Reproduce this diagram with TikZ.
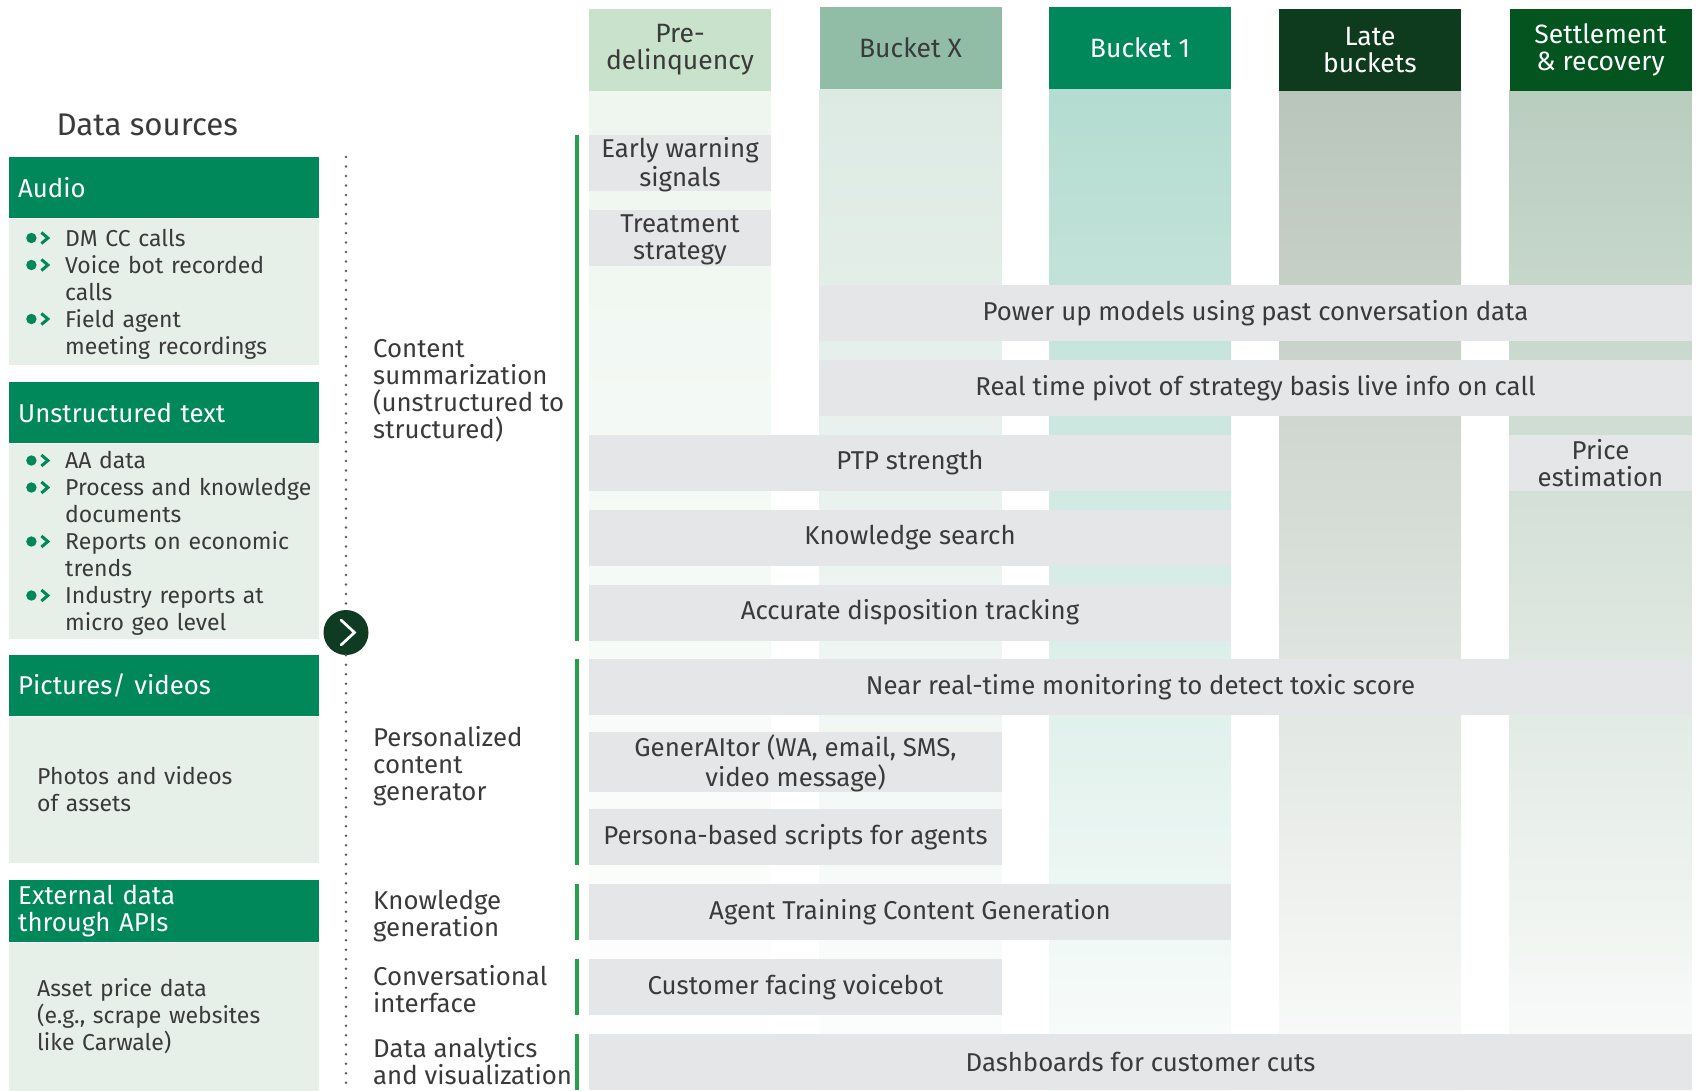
\documentclass[tikz,border=0pt]{standalone}
\usepackage{fontspec}
\setmainfont{Fira Sans}
\usepackage{xcolor}
\usepackage{tikz}
\usetikzlibrary{positioning,calc}
\definecolor{ink}{HTML}{3A3A3A}
\definecolor{bcggreen}{HTML}{00875A}
\definecolor{srcbg}{HTML}{E6F0E8}
\definecolor{cellgray}{HTML}{E5E6E8}
\definecolor{bargreen}{HTML}{27A04E}
\definecolor{circgreen}{HTML}{0F3B22}
\definecolor{dotgray}{HTML}{5A5A5A}
\definecolor{hpre}{HTML}{C8E2CC}
\definecolor{hbx}{HTML}{91BDA7}
\definecolor{hbone}{HTML}{00875A}
\definecolor{hlate}{HTML}{0E3A1E}
\definecolor{hset}{HTML}{03541F}
\definecolor{bpre}{HTML}{EEF6EF}
\definecolor{bbx}{HTML}{DDEAE4}
\definecolor{bbone}{HTML}{B4DCD0}
\definecolor{blate}{HTML}{B9C5BA}
\definecolor{bset}{HTML}{B9CDBF}

\newcommand{\srcbullet}{\tikz[baseline=-8pt, x=1pt, y=1pt]{\fill[bcggreen] (0,0) circle (5.2pt); \draw[bcggreen, line width=3pt] (10,5.5) -- (16.5,0) -- (10,-5.5);}}
\newcommand{\srcitem}{\makebox[39pt][l]{\srcbullet}}
\newcommand{\lowered}[1]{\raisebox{-3pt}[\height][\depth]{#1}}

\begin{document}
\begin{tikzpicture}[
  x=1pt, y=-1pt,
  font=\fontsize{25.8}{27}\selectfont, text=ink,
  colhead/.style={minimum width=182pt, minimum height=82pt, inner sep=0pt, align=center, font=\fontsize{26.5}{27}\selectfont},
  cell/.style={fill=cellgray, minimum height=56pt, inner sep=0pt, align=center},
  srchead/.style={fill=bcggreen, text=white, anchor=north west, text width=292pt, inner xsep=9pt, inner ysep=0pt, minimum height=61pt, align=left, font=\fontsize{25.8}{27}\selectfont},
  srcbody/.style={fill=srcbg, below=0pt of #1, text width=276pt, inner xsep=17pt, inner ysep=0pt, align=left, font=\fontsize{23}{27}\selectfont},
  cattext/.style={anchor=west, align=left, inner sep=0pt},
  catbar/.style={draw=bargreen, line width=4.3pt},
  dotline/.style={draw=dotgray, line width=2.6pt, line cap=round, dash pattern=on 0pt off 9.5pt}
]
\useasboundingbox (0,0) rectangle (1696,1090);

% stage columns
\foreach \cx/\tc in {680/bpre, 910.5/bbx, 1140/bbone, 1370/blate, 1600.5/bset}
  \shade[top color=\tc, bottom color=\tc!5!white] (\cx-91,89) rectangle (\cx+91,1090);

\node[colhead, fill=hpre] (hpre) at (680,50) {Pre-\\delinquency};
\node[colhead, fill=hbx] (hbx) at (910.5,48) {Bucket X};
\node[colhead, fill=hbone, text=white] (hbone) at (1140,48) {Bucket 1};
\node[colhead, fill=hlate, text=white] (hlate) at (1370,50) {Late\\buckets};
\node[colhead, fill=hset, text=white] (hset) at (1600.5,50) {Settlement\\\& recovery};

% use cases
\node[cell, minimum width=182pt] (ews) at (680,163) {\lowered{\begin{tabular}{@{}c@{}}Early warning\\signals\end{tabular}}};
\node[cell, minimum width=182pt] (treat) at (680,238) {\lowered{\begin{tabular}{@{}c@{}}Treatment\\strategy\end{tabular}}};
\node[cell, minimum width=873pt] (power) at (1255.5,313) {Power up models using past conversation data};
\node[cell, minimum width=873pt] (pivot) at (1255.5,388) {Real time pivot of strategy basis live info on call};
\node[cell, minimum width=642pt] (ptp) at (910,463) {PTP strength};
\node[cell, minimum width=183pt] (price) at (1600.5,463) {Price\\estimation};
\node[cell, minimum width=642pt] (ksearch) at (910,537.5) {Knowledge search};
\node[cell, minimum width=642pt] (dispo) at (910,612.5) {Accurate disposition tracking};
\node[cell, minimum width=1103pt] (toxic) at (1140.5,687) {Near real-time monitoring to detect toxic score};
\node[cell, minimum width=413pt] (genai) at (795.5,762) {\lowered{\begin{tabular}{@{}c@{}}GenerAItor (WA, email, SMS,\\video message)\end{tabular}}};
\node[cell, minimum width=413pt] (persona) at (795.5,837) {Persona-based scripts for agents};
\node[cell, minimum width=642pt] (training) at (910,912) {Agent Training Content Generation};
\node[cell, minimum width=413pt] (voicebot) at (795.5,987) {Customer facing voicebot};
\node[cell, minimum width=1103pt] (dashboards) at (1140.5,1062) {Dashboards for customer cuts};

% capability groups
\draw[catbar] ([xshift=-11.5pt]ews.north west) -- ([xshift=-11.5pt]dispo.south west);
\draw[catbar] ([xshift=-11.5pt]toxic.north west) -- ([xshift=-11.5pt]persona.south west);
\draw[catbar] ([xshift=-11.5pt]training.north west) -- ([xshift=-11.5pt]training.south west);
\draw[catbar] ([xshift=-11.5pt]voicebot.north west) -- ([xshift=-11.5pt]voicebot.south west);
\draw[catbar] ([xshift=-11.5pt]dashboards.north west) -- ([xshift=-11.5pt]dashboards.south west);

\node[cattext] (csum) at (373,391) {Content\\summarization\\(unstructured to\\structured)};
\node[cattext] (pcg) at (373,766.5) {Personalized\\content\\generator};
\node[cattext] (kgen) at (373,916) {Knowledge\\generation};
\node[cattext] (conv) at (373,989) {Conversational\\interface};
\node[cattext] (dav) at (373,1061) {Data analytics\\and visualization};

% data sources
\node[anchor=west, font=\fontsize{31.3}{34}\selectfont] (dstitle) at (53,125) {Data sources};

\node[srchead] (audio) at (9,157) {Audio};
\node[srcbody=audio, minimum height=146pt] (audiobody) {\lowered{%
  \begin{tabular}{@{}l@{}l@{}}
  \srcitem & DM CC calls\\
  \srcitem & Voice bot recorded\\
           & calls\\
  \srcitem & Field agent\\
           & meeting recordings
  \end{tabular}}};

\node[srchead] (utext) at (9,382) {Unstructured text};
\node[srcbody=utext, minimum height=195pt] (utextbody) {\lowered{%
  \begin{tabular}{@{}l@{}l@{}}
  \srcitem & AA data\\
  \srcitem & Process and knowledge\\
           & documents\\
  \srcitem & Reports on economic\\
           & trends\\
  \srcitem & Industry reports at\\
           & micro geo level
  \end{tabular}}};

\node[srchead] (pics) at (9,655) {Pictures/ videos};
\node[srcbody=pics, minimum height=146pt, inner xsep=28pt, text width=254pt] (picsbody) {Photos and videos\\of assets};

\node[srchead, minimum height=62pt] (extapi) at (9,880) {External data\\through APIs};
\node[srcbody=extapi, minimum height=148pt, inner xsep=28pt, text width=254pt] (extapibody) {Asset price data\\(e.g., scrape websites\\like Carwale)};

% flow marker
\node[circle, fill=circgreen, minimum size=45pt, inner sep=0pt] (go) at (346,632.5) {};
\draw[white, line width=2.7pt, line cap=round] ([shift={(-5,-12.5)}]go.center) -- ([shift={(8.5,0)}]go.center) -- ([shift={(-5,12.5)}]go.center);
\coordinate (dtop) at (346,157);
\coordinate (dbot) at (346,1090);
\draw[dotline] (dtop) -- (go);
\draw[dotline] (go) -- (dbot);

\end{tikzpicture}
\end{document}
